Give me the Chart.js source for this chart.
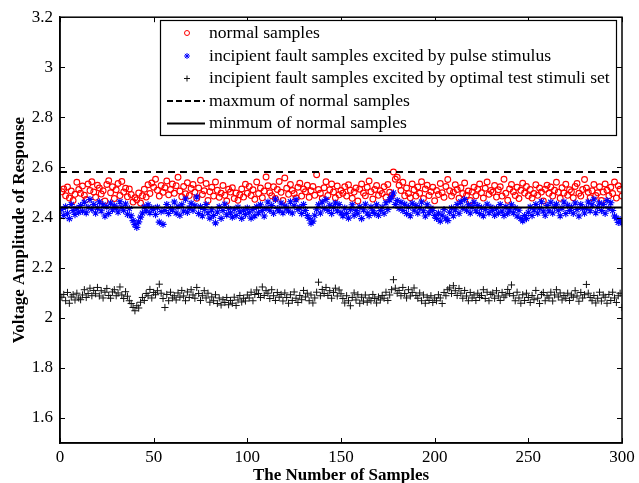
<!DOCTYPE html>
<html>
<head>
<meta charset="utf-8">
<script src="https://cdn.jsdelivr.net/npm/chart.js@4/dist/chart.umd.min.js"></script>
<style>
html,body{margin:0;padding:0;background:#fff;}
canvas{display:block;}
</style>
</head>
<body>
<canvas id="c" width="639" height="483"></canvas>
<script>
// ---- data ----
const legendLabels = [
  "normal samples",
  "incipient fault samples excited by pulse stimulus",
  "incipient fault samples excited by optimal test stimuli set",
  "maxmum of normal samples",
  "minmum of normal samples"
];
const xTicks = [0, 50, 100, 150, 200, 250, 300];
const yTicks = [1.6, 1.8, 2.0, 2.2, 2.4, 2.6, 2.8, 3.0, 3.2];

const normalSamples = [
2.503,2.514,2.487,2.522,2.478,2.506,2.468,2.493,2.541,2.512,
2.497,2.526,2.489,2.472,2.534,2.508,2.543,2.502,2.481,2.529,
2.518,2.494,2.507,2.466,2.532,2.547,2.499,2.523,2.476,2.511,
2.536,2.488,2.544,2.502,2.517,2.483,2.514,2.492,2.462,2.479,
2.471,2.498,2.458,2.487,2.513,2.482,2.531,2.496,2.538,2.521,
2.553,2.509,2.486,2.528,2.501,2.519,2.546,2.491,2.512,2.534,
2.497,2.527,2.561,2.506,2.483,2.524,2.495,2.539,2.488,2.516,
2.532,2.501,2.477,2.518,2.549,2.492,2.507,2.536,2.468,2.503,
2.521,2.486,2.542,2.509,2.481,2.497,2.528,2.489,2.466,2.513,
2.502,2.519,2.476,2.498,2.469,2.491,2.514,2.482,2.533,2.497,
2.524,2.488,2.511,2.473,2.542,2.496,2.518,2.479,2.506,2.562,
2.527,2.499,2.487,2.523,2.476,2.512,2.544,2.501,2.468,2.558,
2.517,2.493,2.532,2.508,2.496,2.478,2.521,2.537,2.486,2.514,
2.503,2.529,2.481,2.507,2.524,2.489,2.571,2.512,2.497,2.476,
2.519,2.543,2.488,2.511,2.534,2.502,2.479,2.526,2.491,2.508,
2.497,2.523,2.486,2.531,2.509,2.477,2.502,2.518,2.466,2.513,
2.534,2.498,2.487,2.521,2.546,2.503,2.474,2.512,2.528,2.489,
2.507,2.496,2.523,2.481,2.532,2.501,2.488,2.582,2.553,2.561,
2.529,2.508,2.541,2.487,2.518,2.496,2.479,2.534,2.511,2.486,
2.522,2.497,2.543,2.476,2.514,2.529,2.488,2.503,2.521,2.467,
2.508,2.492,2.536,2.499,2.481,2.524,2.552,2.507,2.486,2.501,
2.531,2.512,2.477,2.519,2.496,2.538,2.489,2.506,2.468,2.502,
2.521,2.487,2.513,2.534,2.499,2.478,2.517,2.542,2.493,2.508,
2.501,2.528,2.482,2.511,2.523,2.486,2.553,2.497,2.469,2.514,
2.532,2.503,2.488,2.521,2.476,2.509,2.537,2.498,2.524,2.487,
2.512,2.478,2.496,2.531,2.489,2.518,2.502,2.466,2.513,2.529,
2.497,2.522,2.486,2.509,2.541,2.501,2.477,2.519,2.498,2.533,
2.489,2.511,2.503,2.479,2.524,2.536,2.497,2.486,2.512,2.552,
2.518,2.501,2.479,2.507,2.532,2.488,2.499,2.523,2.468,2.502,
2.534,2.509,2.487,2.521,2.496,2.542,2.478,2.527,2.513,2.486
];

const pulseFaultSamples = [
2.432,2.408,2.443,2.417,2.396,2.452,2.428,2.412,2.437,2.421,
2.448,2.426,2.461,2.419,2.441,2.472,2.433,2.452,2.418,2.439,
2.463,2.427,2.451,2.406,2.443,2.416,2.458,2.431,2.447,2.438,
2.422,2.463,2.441,2.429,2.454,2.413,2.436,2.407,2.388,2.372,
2.361,2.383,2.402,2.418,2.442,2.427,2.451,2.419,2.438,2.433,
2.412,2.441,2.382,2.424,2.373,2.428,2.452,2.416,2.437,2.431,
2.462,2.418,2.443,2.409,2.451,2.426,2.474,2.421,2.438,2.457,
2.429,2.447,2.482,2.416,2.443,2.407,2.432,2.452,2.419,2.398,
2.431,2.408,2.379,2.422,2.443,2.397,2.428,2.453,2.411,2.436,
2.419,2.402,2.433,2.408,2.441,2.423,2.397,2.429,2.412,2.438,
2.421,2.398,2.432,2.407,2.443,2.419,2.451,2.428,2.406,2.437,
2.462,2.429,2.448,2.417,2.473,2.436,2.427,2.458,2.419,2.446,
2.438,2.426,2.463,2.418,2.447,2.471,2.432,2.441,2.416,2.452,
2.428,2.408,2.397,2.378,2.386,2.409,2.433,2.451,2.418,2.462,
2.437,2.472,2.428,2.449,2.416,2.441,2.458,2.427,2.452,2.419,
2.407,2.438,2.416,2.398,2.432,2.451,2.409,2.428,2.417,2.443,
2.396,2.431,2.453,2.418,2.408,2.442,2.427,2.416,2.451,2.409,
2.428,2.441,2.417,2.459,2.432,2.471,2.483,2.498,2.452,2.468,
2.437,2.461,2.428,2.453,2.416,2.442,2.407,2.457,2.429,2.448,
2.418,2.439,2.462,2.427,2.406,2.451,2.419,2.437,2.428,2.408,
2.397,2.418,2.386,2.409,2.432,2.398,2.388,2.421,2.438,2.407,
2.431,2.452,2.417,2.463,2.438,2.472,2.429,2.451,2.418,2.442,
2.461,2.427,2.448,2.416,2.439,2.407,2.432,2.453,2.419,2.441,
2.428,2.409,2.437,2.418,2.452,2.426,2.408,2.443,2.417,2.431,
2.451,2.419,2.438,2.406,2.429,2.397,2.387,2.408,2.396,2.421,
2.442,2.408,2.431,2.452,2.418,2.437,2.463,2.426,2.409,2.448,
2.427,2.461,2.418,2.442,2.453,2.429,2.407,2.438,2.462,2.416,
2.449,2.428,2.441,2.417,2.458,2.432,2.406,2.452,2.436,2.418,
2.438,2.462,2.427,2.451,2.473,2.419,2.441,2.458,2.428,2.452,
2.417,2.468,2.437,2.459,2.428,2.406,2.398,2.381,2.392,2.378
];

const optimalFaultSamples = [
2.082,2.093,2.068,2.101,2.058,2.083,2.092,2.071,2.098,2.079,
2.072,2.091,2.112,2.081,2.097,2.118,2.088,2.109,2.096,2.121,
2.087,2.108,2.079,2.102,2.117,2.089,2.078,2.103,2.112,2.088,
2.099,2.123,2.091,2.077,2.104,2.086,2.068,2.057,2.041,2.028,
2.048,2.039,2.062,2.081,2.069,2.097,2.088,2.113,2.079,2.101,
2.092,2.108,2.134,2.098,2.077,2.041,2.093,2.068,2.102,2.079,
2.088,2.071,2.099,2.082,2.109,2.087,2.068,2.103,2.081,2.112,
2.091,2.078,2.121,2.097,2.069,2.088,2.108,2.079,2.098,2.062,
2.083,2.068,2.092,2.057,2.079,2.051,2.072,2.061,2.081,2.052,
2.069,2.058,2.082,2.049,2.071,2.089,2.063,2.078,2.067,2.091,
2.079,2.102,2.068,2.093,2.111,2.097,2.081,2.123,2.089,2.108,
2.098,2.077,2.112,2.088,2.069,2.101,2.082,2.093,2.067,2.099,
2.081,2.058,2.092,2.069,2.103,2.078,2.061,2.089,2.072,2.109,
2.083,2.098,2.068,2.091,2.059,2.079,2.102,2.142,2.088,2.113,
2.097,2.121,2.089,2.108,2.078,2.101,2.118,2.087,2.111,2.096,
2.077,2.059,2.088,2.068,2.048,2.081,2.099,2.071,2.092,2.058,
2.082,2.067,2.091,2.062,2.079,2.068,2.093,2.077,2.059,2.083,
2.071,2.089,2.078,2.102,2.069,2.091,2.112,2.152,2.118,2.098,
2.109,2.088,2.121,2.097,2.079,2.112,2.087,2.101,2.119,2.089,
2.078,2.099,2.068,2.091,2.058,2.082,2.069,2.088,2.061,2.079,
2.068,2.092,2.079,2.057,2.101,2.088,2.112,2.119,2.097,2.128,
2.108,2.089,2.117,2.098,2.078,2.109,2.087,2.068,2.101,2.079,
2.091,2.069,2.098,2.081,2.089,2.112,2.077,2.102,2.068,2.093,
2.099,2.078,2.108,2.087,2.069,2.101,2.082,2.091,2.113,2.097,
2.131,2.088,2.068,2.102,2.079,2.058,2.092,2.069,2.098,2.081,
2.061,2.089,2.072,2.109,2.078,2.057,2.093,2.101,2.068,2.088,
2.079,2.102,2.067,2.091,2.112,2.083,2.099,2.071,2.089,2.078,
2.098,2.069,2.091,2.082,2.108,2.087,2.066,2.101,2.079,2.092,
2.133,2.098,2.081,2.068,2.089,2.059,2.078,2.102,2.067,2.091,
2.082,2.058,2.093,2.069,2.102,2.079,2.061,2.088,2.098,2.041
];

const maxNormal = 2.582;
const minNormal = 2.44;
const xRange = [0, 300];

// ---- build ----
const toPoints = arr => arr.map((v, i) => ({ x: i + 1, y: v }));
const serif = "'Liberation Serif','Times New Roman',serif";

const datasets = [
  { label: legendLabels[0], data: toPoints(normalSamples), showLine: false,
    pointStyle: 'circle', pointRadius: 2.9, borderColor: '#ff0000', backgroundColor: 'rgba(0,0,0,0)',
    pointBorderWidth: 1.1, order: 5 },
  { label: legendLabels[1], data: toPoints(pulseFaultSamples), showLine: false,
    pointStyle: 'star', pointRadius: 3.6, borderColor: '#0000ff', backgroundColor: '#0000ff',
    pointBorderWidth: 1.1, order: 4 },
  { label: legendLabels[2], data: toPoints(optimalFaultSamples), showLine: false,
    pointStyle: 'cross', pointRadius: 3.6, borderColor: '#111111', backgroundColor: '#111111',
    pointBorderWidth: 1, order: 3 },
  { label: legendLabels[3], type: 'line', data: [{x: xRange[0], y: maxNormal}, {x: xRange[1], y: maxNormal}],
    borderColor: '#000', borderWidth: 2, borderDash: [7, 5], pointRadius: 0, fill: false, order: 2 },
  { label: legendLabels[4], type: 'line', data: [{x: xRange[0], y: minNormal}, {x: xRange[1], y: minNormal}],
    borderColor: '#000', borderWidth: 2, pointRadius: 0, fill: false, order: 1 }
];

const framePlugin = {
  id: 'frame',
  afterDraw(chart) {
    const { ctx, chartArea: a, scales } = chart;
    ctx.save();
    ctx.strokeStyle = '#000';
    ctx.lineWidth = 1;
    const L = 5;
    ctx.beginPath();
    xTicks.forEach(v => {
      const px = Math.round(scales.x.getPixelForValue(v)) + 0.5;
      ctx.moveTo(px, a.bottom); ctx.lineTo(px, a.bottom - L);
      ctx.moveTo(px, a.top); ctx.lineTo(px, a.top + L);
    });
    yTicks.forEach(v => {
      const py = Math.round(scales.y.getPixelForValue(v)) + 0.5;
      ctx.moveTo(a.left, py); ctx.lineTo(a.left + L, py);
      ctx.moveTo(a.right, py); ctx.lineTo(a.right - L, py);
    });
    ctx.stroke();
    ctx.lineWidth = 1.5;
    ctx.strokeRect(a.left, a.top, a.right - a.left, a.bottom - a.top);

    // legend box
    const bx = 160, by = 20, bw = 456, bh = 115;
    ctx.fillStyle = '#fff';
    ctx.fillRect(bx, by, bw, bh);
    ctx.lineWidth = 1.2;
    ctx.strokeRect(bx + 0.5, by + 0.5, bw, bh);
    ctx.font = "17.6px " + serif;
    ctx.textBaseline = 'middle';
    ctx.textAlign = 'left';
    const rowY = [33, 56, 78.5, 101, 123.5];
    const mx = 187, tx = 209;
    legendLabels.forEach((lab, i) => {
      const y = rowY[i];
      const ds = datasets[i];
      ctx.strokeStyle = ds.borderColor;
      ctx.lineWidth = 1;
      ctx.setLineDash([]);
      ctx.beginPath();
      if (i === 0) {
        ctx.arc(mx, y, 2.5, 0, Math.PI * 2);
      } else if (i === 1) {
        const r = 3;
        for (let k = 0; k < 4; k++) {
          const ang = k * Math.PI / 4;
          ctx.moveTo(mx - r * Math.cos(ang), y - r * Math.sin(ang));
          ctx.lineTo(mx + r * Math.cos(ang), y + r * Math.sin(ang));
        }
      } else if (i === 2) {
        const r = 3;
        ctx.moveTo(mx - r, y); ctx.lineTo(mx + r, y);
        ctx.moveTo(mx, y - r); ctx.lineTo(mx, y + r);
      } else {
        ctx.lineWidth = 2;
        if (i === 3) ctx.setLineDash([6, 3]);
        ctx.moveTo(167, y); ctx.lineTo(205, y);
      }
      ctx.stroke();
      ctx.setLineDash([]);
      ctx.fillStyle = '#000';
      ctx.fillText(lab, tx, y);
    });
    ctx.restore();
  }
};

new Chart(document.getElementById('c'), {
  type: 'scatter',
  data: { datasets },
  options: {
    responsive: false,
    animation: false,
    devicePixelRatio: 1,
    layout: { padding: { top: 14, right: 17, left: 0, bottom: 0 } },
    plugins: { legend: { display: false }, tooltip: { enabled: false } },
    scales: {
      x: {
        type: 'linear', min: xRange[0], max: xRange[1],
        afterBuildTicks: s => { s.ticks = xTicks.map(v => ({ value: v })); },
        afterFit: s => { s.height = 40; },
        grid: { display: false, drawTicks: false },
        border: { display: true, color: '#000', width: 1.5 },
        ticks: { color: '#000', font: { family: serif, size: 17 }, padding: 4, maxRotation: 0,
                 callback: v => String(v) },
        title: { display: true, text: 'The Number of Samples', color: '#000',
                 font: { family: serif, size: 17, weight: 'bold' }, padding: { top: 0, bottom: -3 } }
      },
      y: {
        type: 'linear', min: 1.5, max: 3.2,
        afterBuildTicks: s => { s.ticks = yTicks.map(v => ({ value: v })); },
        afterFit: s => { s.width = 60; },
        grid: { display: false, drawTicks: false },
        border: { display: true, color: '#000', width: 1.5 },
        ticks: { color: '#000', font: { family: serif, size: 17 }, padding: 7,
                 callback: v => String(parseFloat(Number(v).toFixed(1))) },
        title: { display: true, text: 'Voltage Amplitude of Response', color: '#000',
                 font: { family: serif, size: 17, weight: 'bold' }, padding: { top: 9, bottom: 0 } }
      }
    }
  },
  plugins: [framePlugin]
});
</script>
</body>
</html>
